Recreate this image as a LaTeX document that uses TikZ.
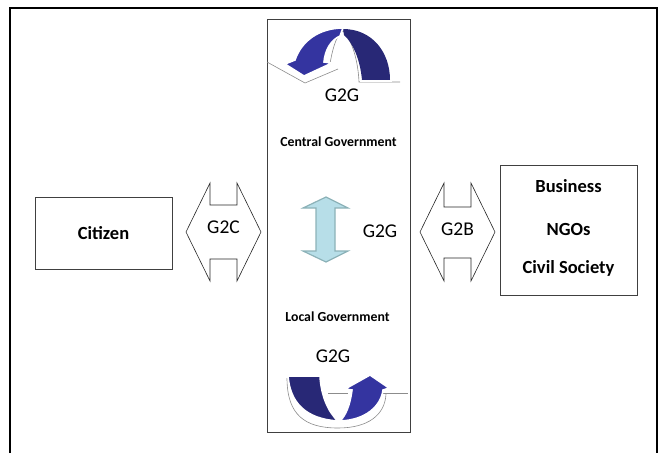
\documentclass[tikz,border=0pt]{standalone}
\usepackage{fontspec}
\setmainfont{Carlito}
\definecolor{archblue}{RGB}{52,52,160}
\definecolor{archnavy}{RGB}{40,40,118}
\definecolor{shaftfill}{RGB}{183,222,232}
\definecolor{shaftline}{RGB}{140,178,184}
\begin{document}
\begin{tikzpicture}[x=1pt,y=-1pt,
    boxline/.style={draw=black!75,line width=0.8pt},
    actor/.style={font=\fontsize{18.5}{20}\selectfont\bfseries},
    level/.style={font=\fontsize{13.8}{15}\selectfont\bfseries},
    flow/.style={font=\fontsize{19.5}{21}\selectfont},
    twoway/.style={draw=black!85,line width=0.6pt,fill=white},
    rim/.style={draw=white,line width=1.6pt},
    shade/.style={draw=black!45,line width=0.6pt}]
\useasboundingbox (0,0) rectangle (660,453);
% outer frame, open at the bottom
\draw[line width=2pt] (10,453) -- (10,8) -- (657,8) -- (657,453);

% boxes
\node[boxline,minimum width=137pt,minimum height=72pt,actor] (citizen) at (103.5,233) {Citizen};
\node[boxline,minimum width=143pt,minimum height=413pt] (gov) at (338.5,225.5) {};
\node[boxline,minimum width=137pt,minimum height=130pt] (others) at (568.5,230) {};
\node[actor] (business) at (568.5,186) {Business};
\node[actor] (ngo) at (568.5,229) {NGOs};
\node[actor] (civil) at (568.5,268) {Civil Society};

% G2C and G2B two-way arrows
\draw[twoway] (186,232) -- (210,183) -- (210,205) -- (237,205) -- (237,183) -- (261,232)
   -- (237,281) -- (237,259) -- (210,259) -- (210,281) -- cycle;
\node[flow] (g2c) at (223.5,227) {G2C};
\draw[twoway] (420,232) -- (444,183) -- (444,207) -- (471,207) -- (471,183) -- (495,232)
   -- (471,281) -- (471,258) -- (444,258) -- (444,281) -- cycle;
\node[flow] (g2b) at (457.5,229) {G2B};

% levels of government
\node[level] (central) at (338.5,142) {Central Government};
\node[level] (local) at (337.5,317) {Local Government};
\node[flow] (g2gtop) at (342,95) {G2G};
\node[flow] (g2gmid) at (380,231) {G2G};
\node[flow] (g2gbot) at (333,356) {G2G};

% vertical two-way arrow between the levels
\draw[fill=shaftfill,draw=shaftline,line width=1.2pt,line join=miter]
   (326,197) -- (348,208) -- (335,208) -- (335,251) -- (348,251) -- (326,262)
   -- (303,251) -- (316,251) -- (316,208) -- (303,208) -- cycle;

% curved arrow at the top
\draw[shade] (267,62) -- (305,83) -- (338,69);
\draw[shade] (330,64) .. controls (333,45) and (338,33) .. (343,31)
   .. controls (352,40) and (358,60) .. (359,82) -- (400,82);
\fill[archnavy] (343,29) .. controls (372,29) and (390,52) .. (390,80)
   -- (362,80) .. controls (360,58) and (352,42) .. (344,35) -- cycle;
\draw[rim] (360,81) -- (392,81);
\filldraw[archblue,rim,fill=archblue] (343,28) .. controls (318,28) and (301,42) .. (295,60)
   -- (285,64) -- (304,76) -- (332,63) -- (324,62)
   .. controls (325,50) and (331,40) .. (340,36) -- cycle;

% curved arrow at the bottom
\draw[shade] (328,393) -- (348,393);
\draw[shade] (383,393) -- (408,393);
\draw[shade] (287,378) .. controls (287,415) and (305,428) .. (338,428)
   .. controls (368,428) and (385,415) .. (386,394);
\filldraw[archnavy,rim,fill=archnavy] (288,376) -- (320,376)
   .. controls (321,395) and (328,412) .. (338,421)
   .. controls (305,419) and (290,402) .. cycle;
\filldraw[archblue,rim,fill=archblue] (340,421) .. controls (366,420) and (381,406) .. (383,390)
   -- (389,388) -- (370,375) -- (345,389) -- (352,390)
   .. controls (350,405) and (346,415) .. cycle;
\end{tikzpicture}
\end{document}
